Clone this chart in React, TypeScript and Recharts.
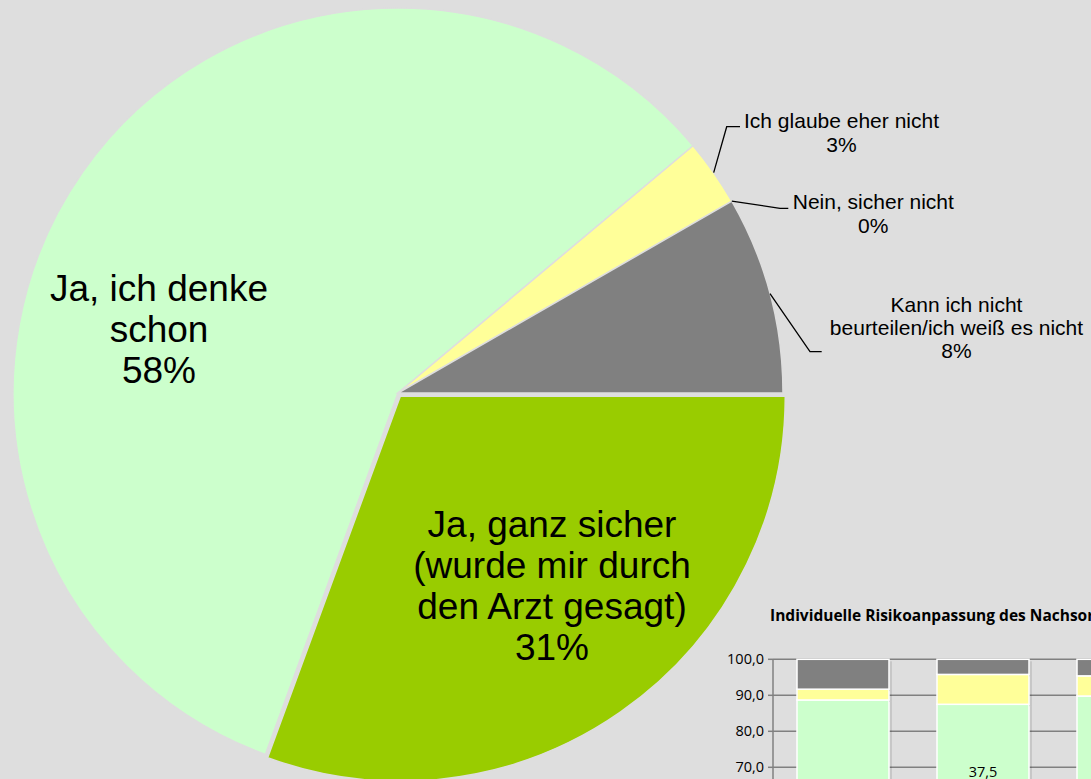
import React from "react";
import { PieChart, Pie, Cell, BarChart, Bar, XAxis, YAxis, CartesianGrid, LabelList } from "recharts";

// ---------- Pie data ----------
const pieCategories = [
  "Ja, ganz sicher (wurde mir durch den Arzt gesagt)",
  "Ja, ich denke schon",
  "Ich glaube eher nicht",
  "Nein, sicher nicht",
  "Kann ich nicht beurteilen/ich weiß es nicht",
];
const pieValues = [30.6, 58.3, 2.8, 0, 8.3];
const pieLabelLines = [
  ["Ja, ganz sicher", "(wurde mir durch", "den Arzt gesagt)"],
  ["Ja, ich denke", "schon"],
  ["Ich glaube eher nicht"],
  ["Nein, sicher nicht"],
  ["Kann ich nicht", "beurteilen/ich weiß es nicht"],
];
const pieColors = ["#99cc00", "#ccffcc", "#ffff99", "#ffffcc", "#808080"];

// ---------- Inset bar chart data ----------
const insetTitle = "Individuelle Risikoanpassung des Nachsorgeschemas";
const insetCategories = ["Gruppe 1", "Gruppe 2", "Gruppe 3"];
const barGreen = [37.3, 50.0, 35.4];
const barLightGreen = [51.4, 37.5, 54.4];
const barYellow = [3.0, 8.3, 5.6];
const barGray = [8.3, 4.2, 4.6];
const insetTicks = [0, 10, 20, 30, 40, 50, 60, 70, 80, 90, 100];

const pieData = pieCategories.map((name, i) => ({ name, value: pieValues[i] }));
const barData = insetCategories.map((name, i) => ({
  name,
  green: barGreen[i],
  lightgreen: barLightGreen[i],
  yellow: barYellow[i],
  gray: barGray[i],
}));

// ---------- layout / style ----------
const BG = "#dedede";
const CX = 398;
const CY = 393;
const R = 385;
const EXPLODE = 4;
const RAD = Math.PI / 180;
const total = pieValues.reduce((a, b) => a + b, 0);
const mid0 = -(pieValues[0] / total) * 180;
const exOx = Math.cos(-RAD * mid0) * EXPLODE;
const exOy = Math.sin(-RAD * mid0) * EXPLODE;

type Layout = { dx: number; y0: number; lh: number; fs: number; leader?: number[][] };
const labelLayout: Layout[] = [
  { dx: 154, y0: 144, lh: 41, fs: 37 },
  { dx: -239, y0: -92, lh: 41, fs: 37 },
  { dx: 443.5, y0: -264.7, lh: 23.3, fs: 21, leader: [[328.7, -266.3], [342, -266.3]] },
  { dx: 475.3, y0: -183.7, lh: 23.3, fs: 21, leader: [[382, -184.7], [390.3, -184.7]] },
  { dx: 558.5, y0: -81.3, lh: 23.3, fs: 21, leader: [[412, -41.3], [423.7, -41.3]] },
];

const renderPieLabel = (props: any) => {
  const { index, midAngle, percent } = props;
  const lay = labelLayout[index];
  if (!lay) return null;
  const lines = [...pieLabelLines[index], `${Math.round(percent * 100)}%`];
  const tx = CX + lay.dx;
  let leader = null;
  if (lay.leader) {
    const sx = CX + Math.cos(-RAD * midAngle) * R;
    const sy = CY + Math.sin(-RAD * midAngle) * R;
    const pts = [[sx, sy], ...lay.leader.map(([x, y]) => [CX + x, CY + y])];
    leader = (
      <polyline
        points={pts.map((p) => p.join(",")).join(" ")}
        fill="none"
        stroke="#000"
        strokeWidth={1.3}
      />
    );
  }
  return (
    <g key={`lbl-${index}`}>
      {leader}
      <text
        x={tx}
        textAnchor="middle"
        fontFamily="'Liberation Sans', Arial, sans-serif"
        fontSize={lay.fs}
        fill="#000"
      >
        {lines.map((ln, i) => (
          <tspan key={i} x={tx} y={CY + lay.y0 + i * lay.lh}>
            {ln}
          </tspan>
        ))}
      </text>
    </g>
  );
};

const fmt = (v: any) => Number(v).toFixed(1).replace(".", ",");

const ShadowBar = (props: any) => {
  const { x, y, width, height, fill } = props;
  if (!height || height <= 0) return null;
  return (
    <g>
      <rect x={x + width} y={y + 2} width={3} height={height} fill="rgba(0,0,0,0.10)" />
      <rect x={x} y={y} width={width} height={height} fill={fill} stroke="#fff" strokeWidth={1.5} />
    </g>
  );
};

export default function App() {
  return (
    <div
      style={{
        position: "absolute",
        left: 0,
        top: 0,
        width: 1091,
        height: 779,
        overflow: "hidden",
        background: BG,
      }}
    >
      <div style={{ position: "absolute", left: 0, top: 0 }}>
        <PieChart width={1091} height={779} margin={{ top: 0, right: 0, bottom: 0, left: 0 }}>
          <Pie
            data={pieData}
            dataKey="value"
            nameKey="name"
            cx={CX}
            cy={CY}
            outerRadius={R}
            startAngle={0}
            endAngle={-360}
            isAnimationActive={false}
            labelLine={false}
          >
            {pieData.map((d, i) => (
              <Cell
                key={i}
                fill={i === 0 ? "none" : pieColors[i]}
                stroke={i === 0 ? "none" : BG}
                strokeWidth={1.5}
              />
            ))}
          </Pie>
          <Pie
            data={pieData}
            dataKey="value"
            nameKey="name"
            cx={CX + exOx}
            cy={CY + exOy}
            outerRadius={R}
            startAngle={0}
            endAngle={-360}
            isAnimationActive={false}
            labelLine={false}
            label={renderPieLabel}
          >
            {pieData.map((d, i) => (
              <Cell
                key={i}
                fill={i === 0 ? pieColors[0] : "none"}
                stroke={i === 0 ? BG : "none"}
                strokeWidth={1.5}
              />
            ))}
          </Pie>
        </PieChart>
      </div>

      <div
        style={{
          position: "absolute",
          left: 770,
          top: 605,
          fontFamily: "'Open Sans', sans-serif",
          fontWeight: 700,
          fontSize: 15.5,
          lineHeight: "20px",
          whiteSpace: "nowrap",
          color: "#000",
        }}
      >
        {insetTitle}
      </div>

      <div style={{ position: "absolute", left: 700, top: 600 }}>
        <BarChart
          width={493}
          height={440}
          data={barData}
          margin={{ top: 59.3, right: 0, bottom: 20.7, left: 13 }}
        >
          <CartesianGrid vertical={false} stroke="#808080" strokeWidth={1.5} />
          <XAxis dataKey="name" hide />
          <YAxis
            width={60}
            domain={[0, 100]}
            ticks={insetTicks}
            tickFormatter={fmt}
            tickSize={5}
            tickMargin={4}
            axisLine={{ stroke: "#808080", strokeWidth: 1.5 }}
            tickLine={{ stroke: "#808080", strokeWidth: 1.5 }}
            tick={{ fill: "#000", fontSize: 14.5, fontFamily: "'Open Sans', sans-serif" }}
          />
          <Bar dataKey="green" stackId="a" fill="#99cc00" barSize={92} shape={ShadowBar} isAnimationActive={false}>
            <LabelList dataKey="green" position="center" formatter={fmt} fill="#000" fontSize={14.5} fontFamily="'Open Sans', sans-serif" />
          </Bar>
          <Bar dataKey="lightgreen" stackId="a" fill="#ccffcc" barSize={92} shape={ShadowBar} isAnimationActive={false}>
            <LabelList dataKey="lightgreen" position="center" formatter={fmt} fill="#000" fontSize={14.5} fontFamily="'Open Sans', sans-serif" />
          </Bar>
          <Bar dataKey="yellow" stackId="a" fill="#ffff99" barSize={92} shape={ShadowBar} isAnimationActive={false} />
          <Bar dataKey="gray" stackId="a" fill="#808080" barSize={92} shape={ShadowBar} isAnimationActive={false} />
        </BarChart>
      </div>
    </div>
  );
}
